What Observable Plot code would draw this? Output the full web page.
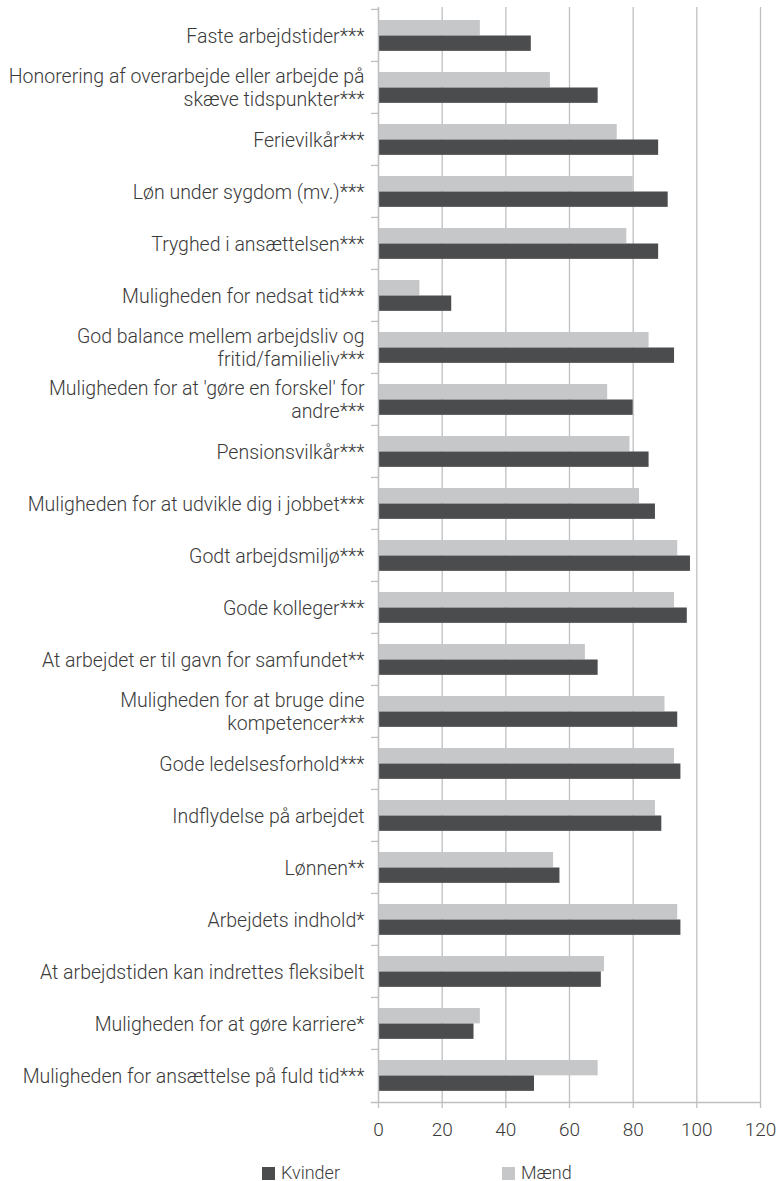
<!DOCTYPE html>
<html>
<head>
<meta charset="utf-8">
<script src="https://cdn.jsdelivr.net/npm/d3@7"></script>
<script src="https://cdn.jsdelivr.net/npm/@observablehq/plot@0.6"></script>
<style>
  body { margin: 0; background: #fff; font-family: Roboto, "Noto Sans", sans-serif; }
  #chart svg { display: block; }
  #legend { position: relative; height: 22px; margin-top: 12px; font-size: 18px; font-weight: 300; color: #3a3a3a; }
  #legend .item { position: absolute; top: 0; display: flex; align-items: center; gap: 6px; line-height: 22px; }
  #legend .swatch { width: 13px; height: 13px; display: inline-block; }
</style>
</head>
<body>
<div id="chart"></div>
<div id="legend"></div>
<script>
// Job characteristics, share (%) rating each as important, by gender
const categories = [
  "Faste arbejdstider***",
  "Honorering af overarbejde eller arbejde på skæve tidspunkter***",
  "Ferievilkår***",
  "Løn under sygdom (mv.)***",
  "Tryghed i ansættelsen***",
  "Muligheden for nedsat tid***",
  "God balance mellem arbejdsliv og fritid/familieliv***",
  "Muligheden for at 'gøre en forskel' for andre***",
  "Pensionsvilkår***",
  "Muligheden for at udvikle dig i jobbet***",
  "Godt arbejdsmiljø***",
  "Gode kolleger***",
  "At arbejdet er til gavn for samfundet**",
  "Muligheden for at bruge dine kompetencer***",
  "Gode ledelsesforhold***",
  "Indflydelse på arbejdet",
  "Lønnen**",
  "Arbejdets indhold*",
  "At arbejdstiden kan indrettes fleksibelt",
  "Muligheden for at gøre karriere*",
  "Muligheden for ansættelse på fuld tid***"
];

// Tick labels, with the line breaks used on the axis
const tickLabels = [
  "Faste arbejdstider***",
  "Honorering af overarbejde eller arbejde på\nskæve tidspunkter***",
  "Ferievilkår***",
  "Løn under sygdom (mv.)***",
  "Tryghed i ansættelsen***",
  "Muligheden for nedsat tid***",
  "God balance mellem arbejdsliv og\nfritid/familieliv***",
  "Muligheden for at 'gøre en forskel' for\nandre***",
  "Pensionsvilkår***",
  "Muligheden for at udvikle dig i jobbet***",
  "Godt arbejdsmiljø***",
  "Gode kolleger***",
  "At arbejdet er til gavn for samfundet**",
  "Muligheden for at bruge dine\nkompetencer***",
  "Gode ledelsesforhold***",
  "Indflydelse på arbejdet",
  "Lønnen**",
  "Arbejdets indhold*",
  "At arbejdstiden kan indrettes fleksibelt",
  "Muligheden for at gøre karriere*",
  "Muligheden for ansættelse på fuld tid***"
];

const kvinder = [48, 69, 88, 91, 88, 23, 93, 80, 85, 87, 98, 97, 69, 94, 95, 89, 57, 95, 70, 30, 49];
const maend   = [32, 54, 75, 80, 78, 13, 85, 72, 79, 82, 94, 93, 65, 90, 93, 87, 55, 94, 71, 32, 69];

const series = ["Kvinder", "Mænd"];
const seriesColors = ["#4b4c4e", "#c6c7c9"];
const xTicks = [0, 20, 40, 60, 80, 100, 120];

const rows = categories.flatMap((c, i) => [
  {category: c, sex: "Mænd", value: maend[i]},
  {category: c, sex: "Kvinder", value: kvinder[i]}
]);
const labelOf = new Map(categories.map((c, i) => [c, tickLabels[i]]));

const width = 780, height = 1150;
const marginTop = 7, marginBottom = 48, marginLeft = 378, marginRight = 20;
const step = (height - marginTop - marginBottom) / categories.length;
const gridColor = "#bfbfbf";
const textColor = "#3a3a3a";

const chart = Plot.plot({
  width, height, marginTop, marginBottom, marginLeft, marginRight,
  style: {fontFamily: "Roboto, 'Noto Sans', sans-serif", fontWeight: 300, background: "#fff"},
  x: {domain: [0, 120], label: null},
  y: {domain: categories, padding: 0, label: null},
  color: {domain: series, range: seriesColors},
  marks: [
    Plot.gridX(xTicks, {stroke: gridColor, strokeOpacity: 1, strokeWidth: 1.3}),
    // Men: upper bar of each pair
    Plot.barX(rows.filter(d => d.sex === "Mænd"), {
      x: "value", y: "category", fill: "sex",
      insetTop: 11, insetBottom: step - 26.5
    }),
    // Women: lower bar of each pair
    Plot.barX(rows.filter(d => d.sex === "Kvinder"), {
      x: "value", y: "category", fill: "sex",
      insetTop: 26.5, insetBottom: step - 42
    }),
    // Vertical axis line and short ticks between categories
    Plot.ruleX([0], {stroke: gridColor, strokeWidth: 1.3}),
    Plot.ruleY(categories, {y: d => d, x1: 0, x2: 0, insetLeft: -7, dy: -step / 2, stroke: gridColor, strokeWidth: 1.3}),
    Plot.frame({anchor: "bottom", insetLeft: -7, stroke: gridColor, strokeWidth: 1.3}),
    Plot.axisX({
      ticks: xTicks, tickSize: 6, tickPadding: 14, stroke: gridColor, strokeWidth: 1.3,
      fill: textColor, fontSize: 19, label: null
    }),
    Plot.axisY({
      tickSize: 0, tickPadding: 14, tickFormat: d => labelOf.get(d),
      fill: textColor, fontSize: 19.5, lineHeight: 1.18, label: null
    })
  ]
});
document.getElementById("chart").appendChild(chart);

// Legend below the chart
const legend = document.getElementById("legend");
const legendLeft = [262, 502];
series.forEach((s, i) => {
  const item = document.createElement("div");
  item.className = "item";
  item.style.left = legendLeft[i] + "px";
  item.innerHTML = `<span class="swatch" style="background:${seriesColors[i]}"></span><span>${s}</span>`;
  legend.appendChild(item);
});
</script>
</body>
</html>
